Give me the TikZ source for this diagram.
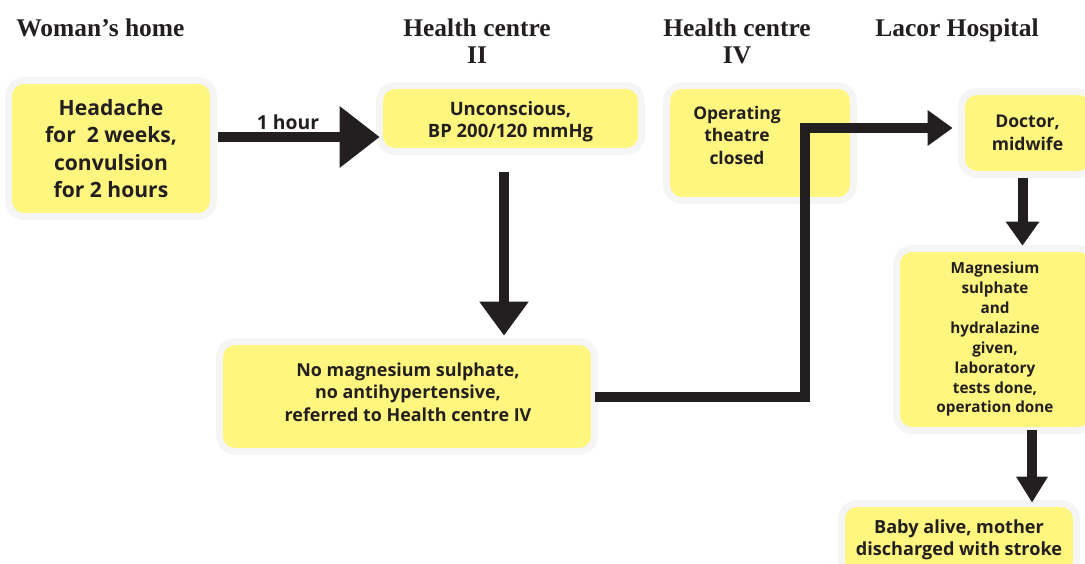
\documentclass[tikz,border=0pt]{standalone}
\usepackage{fontspec}
\setmainfont{Open Sans}
\newfontfamily\titlefont{Liberation Serif}
\usetikzlibrary{arrows.meta,calc}
\definecolor{boxyellow}{RGB}{255,246,128}
\definecolor{halo}{RGB}{245,245,245}
\definecolor{arrowink}{RGB}{35,31,32}
\begin{document}
\begin{tikzpicture}[x=0.02cm,y=-0.02cm,
  box/.style={fill=boxyellow, rounded corners=0.24cm,
    preaction={draw=halo, line width=0.28cm},
    inner sep=0pt, align=center, text=arrowink},
  title/.style={font=\titlefont\bfseries\fontsize{14.5}{15.5}\selectfont, align=center, inner sep=0pt, text=arrowink},
  flow/.style={draw=arrowink, line width=0.2cm},
  plain/.style={inner sep=0pt, align=center, text=arrowink},
]
\useasboundingbox (0,0) rectangle (1085,564);
\clip (0,0) rectangle (1085,564);

% titles
\node[title, anchor=north west] (t1) at (16,18) {Woman’s home};
\node[title, anchor=north] (t2) at (477,18) {Health centre\\II};
\node[title, anchor=north] (t3) at (737,18) {Health centre\\IV};
\node[title, anchor=north] (t4) at (957,18) {Lacor Hospital};

% boxes
\node[box, minimum width=3.96cm, minimum height=2.58cm,
  font={\bfseries\fontsize{12}{15.6}\selectfont}] (home) at (111,148.5)
  {Headache\\for\ \ 2 weeks,\\convulsion\\for 2 hours};
\node[box, minimum width=5.1cm, minimum height=1.18cm] (hc2) at (510.5,118.5) {};
\node[plain, font={\bfseries\fontsize{10.5}{12.5}\selectfont}] (hc2text) at (510.5,122)
  {Unconscious,\\BP 200/120 mmHg};
\node[box, minimum width=7.36cm, minimum height=2.06cm] (nomag) at (407,396.5) {};
\node[plain, font={\bfseries\fontsize{10.2}{12.75}\selectfont}] (nomagtext) at (408,392)
  {No magnesium sulphate,\\no antihypertensive,\\referred to Health centre IV};
\node[box, minimum width=3.6cm, minimum height=2.16cm] (hc4) at (760,143) {};
\node[plain, font={\bfseries\fontsize{9.9}{12.8}\selectfont}] (hc4text) at (737,135)
  {Operating\\theatre\\closed};
\node[box, minimum width=2.5cm, minimum height=1.52cm,
  font={\bfseries\fontsize{10}{13}\selectfont}] (doctor) at (1027.5,133)
  {Doctor,\\midwife};
\node[box, minimum width=3.8cm, minimum height=3.5cm,
  font={\bfseries\fontsize{8.7}{11.3}\selectfont}] (mag) at (995,339.5)
  {Magnesium\\sulphate\\and\\hydralazine\\given,\\laboratory\\tests done,\\operation done};
\node[box, minimum width=4.56cm, minimum height=1.32cm,
  font={\bfseries\fontsize{10.3}{12.5}\selectfont}] (baby) at (959,540)
  {Baby alive, mother\\discharged with stroke};

% connectors
\draw[flow, -{Triangle[length=0.8cm,width=1.18cm]}]
  ([xshift=0.16cm,yshift=0.23cm]home.east) coordinate (a1s)
  -- ([xshift=-0.06cm]hc2.west |- a1s);
\node[plain, font={\bfseries\fontsize{11}{13}\selectfont}] (hour) at (288,122) {1 hour};

\draw[flow, -{Triangle[length=0.68cm,width=0.94cm]}]
  ([xshift=-0.13cm,yshift=-0.48cm]hc2.south) coordinate (a2s)
  -- ([yshift=0.18cm]nomag.north -| a2s);

\draw[flow, miter limit=10, -{Triangle[length=0.5cm,width=0.68cm]}]
  ([xshift=0.08cm]nomag.east) -- ++(210,0)
  |- ([xshift=-0.24cm,yshift=0.1cm]doctor.west);

\draw[flow, -{Triangle[length=0.48cm,width=0.64cm]}]
  ([xshift=-0.1cm,yshift=-0.14cm]doctor.south) coordinate (a4s)
  -- ([yshift=0.12cm]mag.north -| a4s);

\draw[flow, -{Triangle[length=0.52cm,width=0.6cm]}]
  ([xshift=0.74cm,yshift=-0.06cm]mag.south) coordinate (a5s)
  -- ([yshift=0.08cm]baby.north -| a5s);
\end{tikzpicture}
\end{document}
